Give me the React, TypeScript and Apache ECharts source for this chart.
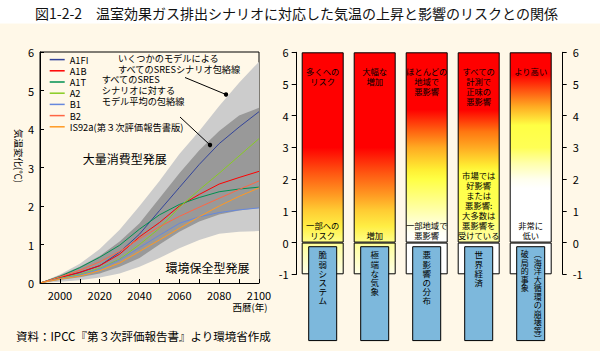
import React, { useEffect, useRef } from "react";
import * as echarts from "echarts";

const FONT = '"Noto Sans CJK JP", "Noto Sans", sans-serif';
const CREAM = "#FFF8E8";

// ---- Left chart data ----
const years = [1990, 2000, 2010, 2020, 2030, 2040, 2050, 2060, 2070, 2080, 2090, 2100];
const xTickLabels = [2000, 2020, 2040, 2060, 2080, 2100];

const A1FI = [0, 0.14, 0.27, 0.45, 0.8, 1.27, 1.88, 2.48, 3.08, 3.62, 4.05, 4.45];
const A1B = [0, 0.14, 0.28, 0.45, 0.75, 1.2, 1.57, 2.0, 2.3, 2.57, 2.74, 2.9];
const A1T = [0, 0.17, 0.4, 0.67, 0.98, 1.4, 1.77, 2.04, 2.22, 2.37, 2.44, 2.49];
const A2 = [0, 0.12, 0.22, 0.38, 0.62, 1.0, 1.42, 1.97, 2.42, 2.85, 3.3, 3.75];
const B1 = [0, 0.11, 0.2, 0.36, 0.6, 0.92, 1.24, 1.55, 1.72, 1.83, 1.9, 1.95];
const B2 = [0, 0.16, 0.33, 0.55, 0.82, 1.15, 1.46, 1.73, 1.97, 2.2, 2.43, 2.65];
const IS92a = [0, 0.1, 0.18, 0.32, 0.52, 0.82, 1.12, 1.42, 1.72, 2.0, 2.25, 2.47];

const scenarioNames = ["A1FI", "A1B", "A1T", "A2", "B1", "B2", "IS92a(第３次評価報告書版)"];
const scenarioValues = [A1FI, A1B, A1T, A2, B1, B2, IS92a];

// envelopes
const outerUpper = [0, 0.22, 0.5, 0.88, 1.38, 2.0, 2.65, 3.35, 3.95, 4.6, 5.2, 5.75];
const innerUpper = [0, 0.2, 0.42, 0.7, 1.08, 1.55, 2.2, 2.85, 3.45, 3.95, 4.35, 4.55];
const innerLower = [0, 0.08, 0.15, 0.25, 0.42, 0.65, 1.0, 1.33, 1.6, 1.78, 1.88, 1.95];
const outerLower = [0, 0.03, 0.07, 0.14, 0.25, 0.42, 0.65, 0.9, 1.12, 1.28, 1.33, 1.35];

// ---- Right chart data ----
const impactCategories = ["脆弱システム", "極端な気象", "悪影響の分布", "世界経済", "破局的事象"];
const barTop = [6, 6, 6, 6, 6];
const barBottom = [-1, -1, -1, -1, -1];
const topTexts = [
  ["多くへの", "リスク"],
  ["大幅な", "増加"],
  ["ほとんどの", "地域で", "悪影響"],
  ["すべての", "計測で", "正味の", "悪影響"],
  ["より高い"],
];
const bottomTexts = [
  ["一部への", "リスク"],
  ["増加"],
  ["一部地域で", "悪影響"],
  ["市場では", "好影響", "または", "悪影響:", "大多数は", "悪影響を", "受けている"],
  ["非常に", "低い"],
];
const boxColumns = [
  ["脆弱システム"],
  ["極端な気象"],
  ["悪影響の分布"],
  ["世界経済"],
  ["破局的事象", "︵海洋大循環の崩壊等︶"],
];
const boxRange = [-0.13, -3.09];
const topTextAnchor = 5.58;
const bottomTextAnchor = 0.066;

// ---- styles ----
const scenarioColors = ["#33449A", "#FF0000", "#009050", "#88CC22", "#6688DD", "#FF6644", "#FF9922"];

const posGradients = [
  [[0, "#FF0000"], [0.5, "#FF0000"], [0.633, "#FF5511"], [0.75, "#FF9922"], [0.833, "#FFCC33"], [0.917, "#FFEE44"], [1, "#FFFF88"]],
  [[0, "#FF0000"], [0.5, "#FF0000"], [0.633, "#FF5511"], [0.75, "#FF9922"], [0.833, "#FFCC33"], [0.917, "#FFEE44"], [1, "#FFFF88"]],
  [[0, "#FF0000"], [0.3, "#FF0000"], [0.417, "#FF6611"], [0.5, "#FFAA22"], [0.617, "#FFEE33"], [0.667, "#FFFF44"], [0.75, "#FFFF77"], [0.833, "#FFFFAA"], [0.95, "#FFFFF5"], [1, "#FFFFFF"]],
  [[0, "#FF0000"], [0.3, "#FF0000"], [0.417, "#FF7711"], [0.5, "#FFAA22"], [0.6, "#FFEE33"], [0.633, "#FFFF44"], [0.833, "#FFFF55"], [0.933, "#FFFF88"], [1, "#FFFFAA"]],
  [[0, "#FF0000"], [0.117, "#FF0000"], [0.2, "#FF5511"], [0.283, "#FFAA22"], [0.383, "#FFFF44"], [0.5, "#FFFF55"], [0.583, "#FFFFAA"], [0.667, "#FFFFEE"], [0.717, "#FFFFFF"], [1, "#FFFFFF"]],
];
const negGradients = [
  [[0, "#FFFF99"], [1, "#FFFFE8"]],
  [[0, "#FFFF99"], [1, "#FFFFE8"]],
  [[0, "#FFFFFF"], [1, "#FFFFFF"]],
  [[0, "#FFFFFF"], [1, "#FFFFFF"]],
  [[0, "#FFFFFF"], [1, "#FFFFFF"]],
];

function grad(stops: any[]) {
  return new echarts.graphic.LinearGradient(
    0, 0, 0, 1,
    stops.map((s) => ({ offset: s[0], color: s[1] }))
  );
}

function pairs(vals: number[]) {
  return years.map((y, i) => [y, vals[i]]);
}

function areaSeries(name: string, vals: number[], color: string, z: number) {
  return {
    name,
    type: "line",
    xAxisIndex: 0,
    yAxisIndex: 0,
    data: pairs(vals),
    symbol: "none",
    silent: true,
    z,
    lineStyle: { width: 0, opacity: 0 },
    areaStyle: { color, opacity: 1 },
  };
}

function buildOption() {
  const lineSeries = scenarioNames.map((n, i) => ({
    name: n,
    type: "line",
    xAxisIndex: 0,
    yAxisIndex: 0,
    data: pairs(scenarioValues[i]),
    symbol: "none",
    z: 4,
    color: scenarioColors[i],
    lineStyle: { width: 1, color: scenarioColors[i] },
  }));

  const labelSeries = {
    type: "custom",
    xAxisIndex: 1,
    yAxisIndex: 1,
    z: 6,
    clip: false,
    silent: true,
    data: impactCategories.map((_, i) => [i, 0]),
    renderItem: (_params: any, api: any) => {
      const i = api.value(0);
      const cx = api.coord([i, 0])[0];
      const yTop = api.coord([i, topTextAnchor])[1];
      const yBot = api.coord([i, bottomTextAnchor])[1];
      const bTop = api.coord([i, boxRange[0]])[1];
      const bBot = api.coord([i, boxRange[1]])[1];
      const children: any[] = [];
      children.push({
        type: "rect",
        shape: { x: cx - 14, y: bTop, width: 28, height: bBot - bTop },
        style: { fill: "#7DB8DC", stroke: "#000", lineWidth: 1 },
      });
      children.push({
        type: "text",
        x: cx,
        y: yTop,
        style: {
          text: topTexts[i].join("\n"),
          fill: "#000",
          fontSize: 8.3,
          fontFamily: FONT,
          align: "center",
          verticalAlign: "top",
          lineHeight: 10,
        },
      });
      children.push({
        type: "text",
        x: cx,
        y: yBot,
        style: {
          text: bottomTexts[i].join("\n"),
          fill: "#000",
          fontSize: 8.3,
          fontFamily: FONT,
          align: "center",
          verticalAlign: "bottom",
          lineHeight: 10,
        },
      });
      const cols = boxColumns[i];
      const twoCols = cols.length > 1;
      const offsets = twoCols ? [-6, 7] : [0];
      cols.forEach((c, k) => {
        children.push({
          type: "text",
          x: cx + offsets[k],
          y: bTop + 3,
          style: {
            text: Array.from(c).join("\n"),
            fill: "#000",
            fontSize: twoCols ? 8 : 8.5,
            fontFamily: FONT,
            align: "center",
            verticalAlign: "top",
            lineHeight: twoCols ? 8.5 : 9.2,
          },
        });
      });
      return { type: "group", children };
    },
  };

  return {
    animation: false,
    backgroundColor: CREAM,
    textStyle: { fontFamily: FONT },
    grid: [
      { left: 40, top: 52, width: 219, height: 231, show: true, borderColor: "#000", borderWidth: 1, backgroundColor: "transparent" },
      { left: 296.7, top: 52.3, width: 260, height: 222, show: false },
    ],
    xAxis: [
      {
        gridIndex: 0,
        type: "value",
        min: 1990,
        max: 2100,
        interval: 10,
        z: 10,
        axisLine: { show: true, lineStyle: { color: "#000", width: 1 } },
        axisTick: { show: true, inside: true, length: 4, lineStyle: { color: "#000" } },
        axisLabel: {
          color: "#000",
          fontSize: 11,
          fontFamily: FONT,
          margin: 6,
          formatter: (v: number) => (xTickLabels.indexOf(v) >= 0 ? String(v) : ""),
        },
        splitLine: { show: false },
      },
      {
        gridIndex: 1,
        type: "category",
        data: impactCategories,
        axisLine: { show: false },
        axisTick: { show: false },
        axisLabel: { show: false },
        splitLine: { show: false },
      },
    ],
    yAxis: [
      {
        gridIndex: 0,
        type: "value",
        min: 0,
        max: 6,
        interval: 1,
        z: 10,
        axisLine: { show: true, lineStyle: { color: "#000", width: 1 } },
        axisTick: { show: true, inside: true, length: 4, lineStyle: { color: "#000" } },
        axisLabel: { color: "#000", fontSize: 11, fontFamily: FONT, margin: 6 },
        splitLine: { show: false },
      },
      {
        gridIndex: 1,
        type: "value",
        min: -1,
        max: 6,
        interval: 1,
        position: "left",
        axisLine: { show: true, lineStyle: { color: "#000", width: 1 } },
        axisTick: { show: true, inside: false, length: 5, lineStyle: { color: "#000" } },
        axisLabel: { color: "#000", fontSize: 11, fontFamily: FONT, margin: 8 },
        splitLine: { show: false },
      },
      {
        gridIndex: 1,
        type: "value",
        min: -1,
        max: 6,
        interval: 1,
        position: "right",
        offset: 6,
        axisLine: { show: true, lineStyle: { color: "#000", width: 1 } },
        axisTick: { show: true, inside: false, length: 4, lineStyle: { color: "#000" } },
        axisLabel: { color: "#000", fontSize: 11, fontFamily: FONT, margin: 10 },
        splitLine: { show: false },
      },
    ],
    legend: {
      data: scenarioNames.map((n) => ({ name: n, icon: "rect" })),
      orient: "vertical",
      left: 49.7,
      top: 54,
      padding: 0,
      itemWidth: 15,
      itemHeight: 1.5,
      itemGap: 0,
      textStyle: { color: "#000", fontSize: 9.3, fontFamily: FONT, lineHeight: 11.2 },
    },
    series: [
      areaSeries("outerUpper", outerUpper, "#CCCCCC", 1),
      areaSeries("innerUpper", innerUpper, "#999999", 1),
      areaSeries("innerLower", innerLower, "#CCCCCC", 1),
      areaSeries("outerLower", outerLower, CREAM, 1),
      ...lineSeries,
      {
        name: "pos",
        type: "bar",
        xAxisIndex: 1,
        yAxisIndex: 1,
        stack: "impact",
        barWidth: 42,
        z: 3,
        data: barTop.map((v, i) => ({
          value: v,
          itemStyle: { color: grad(posGradients[i]), borderColor: "#000", borderWidth: 1 },
        })),
      },
      {
        name: "neg",
        type: "bar",
        xAxisIndex: 1,
        yAxisIndex: 1,
        stack: "impact",
        barWidth: 42,
        z: 3,
        data: barBottom.map((v, i) => ({
          value: v,
          itemStyle: { color: grad(negGradients[i]), borderColor: "#000", borderWidth: 1 },
        })),
      },
      labelSeries,
    ],
    graphic: [
      { type: "rect", shape: { x: 0, y: 0, width: 600, height: 23.5 }, style: { fill: "#FFFFFF" }, z: 0 },
      {
        type: "text",
        x: 35,
        y: 13,
        style: {
          text: "図1-2-2　温室効果ガス排出シナリオに対応した気温の上昇と影響のリスクとの関係",
          fill: "#111",
          fontSize: 14,
          fontFamily: FONT,
          verticalAlign: "middle",
        },
      },
      {
        type: "text",
        x: 18.5,
        y: 156,
        rotation: -Math.PI / 2,
        style: {
          text: "気温変化(℃)",
          fill: "#000",
          fontSize: 9.5,
          fontFamily: FONT,
          align: "center",
          verticalAlign: "middle",
        },
      },
      {
        type: "text",
        x: 250,
        y: 306.7,
        style: { text: "西暦(年)", fill: "#000", fontSize: 9.5, fontFamily: FONT, align: "center", verticalAlign: "middle" },
      },
      {
        type: "text",
        x: 118,
        y: 63.3,
        style: {
          text: "いくつかのモデルによる\nすべてのSRESシナリオ包絡線",
          fill: "#000",
          fontSize: 9.2,
          fontFamily: FONT,
          verticalAlign: "middle",
          lineHeight: 11.1,
        },
      },
      {
        type: "text",
        x: 101.7,
        y: 90,
        style: {
          text: "すべてのSRES\nシナリオに対する\nモデル平均の包絡線",
          fill: "#000",
          fontSize: 9.2,
          fontFamily: FONT,
          verticalAlign: "middle",
          lineHeight: 11.2,
        },
      },
      { type: "line", shape: { x1: 185, y1: 77.5, x2: 226, y2: 94.5 }, style: { stroke: "#000", lineWidth: 1 }, z: 20 },
      { type: "circle", shape: { cx: 226, cy: 94.5, r: 2.2 }, style: { fill: "#000" }, z: 20 },
      { type: "line", shape: { x1: 180, y1: 117, x2: 210, y2: 145 }, style: { stroke: "#000", lineWidth: 1 }, z: 20 },
      { type: "circle", shape: { cx: 210, cy: 145, r: 2.2 }, style: { fill: "#000" }, z: 20 },
      {
        type: "text",
        x: 124.7,
        y: 158.3,
        z: 20,
        style: { text: "大量消費型発展", fill: "#000", fontSize: 12, fontFamily: FONT, align: "center", verticalAlign: "middle" },
      },
      {
        type: "text",
        x: 207.5,
        y: 267.7,
        z: 20,
        style: { text: "環境保全型発展", fill: "#000", fontSize: 12, fontFamily: FONT, align: "center", verticalAlign: "middle" },
      },
      {
        type: "text",
        x: 16,
        y: 335.7,
        style: {
          text: "資料：IPCC『第３次評価報告書』より環境省作成",
          fill: "#000",
          fontSize: 11.5,
          fontFamily: FONT,
          verticalAlign: "middle",
        },
      },
    ],
  };
}

export default function App() {
  const ref = useRef<HTMLDivElement>(null);
  useEffect(() => {
    document.body.style.margin = "0";
    const chart = echarts.init(ref.current as HTMLDivElement, null, { renderer: "svg" });
    chart.setOption(buildOption() as any);
    return () => chart.dispose();
  }, []);
  return <div ref={ref} style={{ position: "absolute", left: 0, top: 0, width: 600, height: 351 }} />;
}
